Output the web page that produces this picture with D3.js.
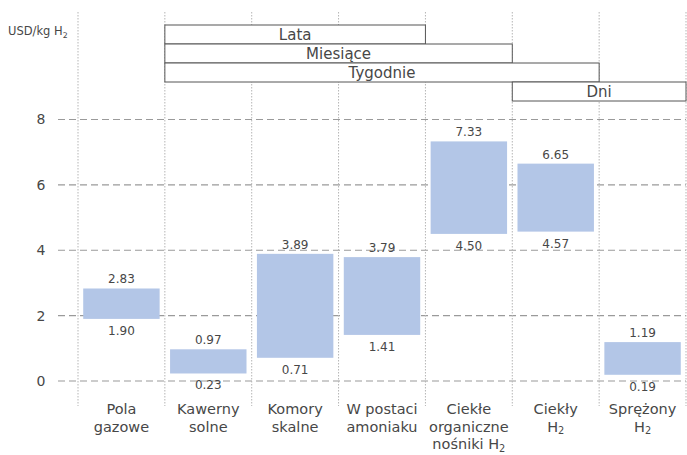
<!DOCTYPE html>
<html>
<head>
<meta charset="utf-8">
<script src="https://cdn.jsdelivr.net/npm/d3@7"></script>
<style>
  body { margin: 0; background: #fff; }
  text { font-family: "DejaVu Sans", sans-serif; fill: #474747; }
</style>
</head>
<body>
<div id="chart"></div>
<script>
const width = 687;
const height = 455;

// categories, "_2" marks a subscript 2
const categories = [
    ["Pola", "gazowe"],
    ["Kawerny", "solne"],
    ["Komory", "skalne"],
    ["W postaci", "amoniaku"],
    ["Ciekłe", "organiczne", "nośniki H_2"],
    ["Ciekły", "H_2"],
    ["Sprężony", "H_2"]
];
const lowValues = [1.90, 0.23, 0.71, 1.41, 4.50, 4.57, 0.19];
const highValues = [2.83, 0.97, 3.89, 3.79, 7.33, 6.65, 1.19];
const yTicks = [0, 2, 4, 6, 8];

// storage duration spans (first and last category index)
const periods = ["Lata", "Miesiące", "Tygodnie", "Dni"];
const periodStart = [1, 1, 1, 5];
const periodEnd = [3, 4, 5, 6];

const keys = categories.map((c, i) => i);

const svg = d3.select("#chart")
    .append("svg")
    .attr("width", width)
    .attr("height", height);

const x = d3.scaleBand()
    .domain(keys)
    .range([78, 686])
    .paddingInner(0.12)
    .paddingOuter(0.06);

const step = x.step();
const colLeft = i => x(i) - step * 0.06;

const y = d3.scaleLinear()
    .domain([0, 8])
    .range([381, 119.5]);

const rowY = d3.scaleBand()
    .domain(periods)
    .range([25, 101]);

// write text with "_2" turned into a subscript
function richText(sel, str) {
    const parts = str.split("_2");
    sel.append("tspan").text(parts[0]);
    if (parts.length > 1) {
        sel.append("tspan").attr("font-size", "0.68em").attr("dy", 2.5).text("2");
    }
}

// horizontal dashed grid
svg.append("g")
    .selectAll("line")
    .data(yTicks)
    .join("line")
    .attr("x1", 58)
    .attr("x2", 686)
    .attr("y1", d => y(d))
    .attr("y2", d => y(d))
    .attr("stroke", "#9a9a9a")
    .attr("stroke-width", 1.2)
    .attr("stroke-dasharray", "7,4");

svg.append("g")
    .selectAll("text")
    .data(yTicks)
    .join("text")
    .attr("x", 41)
    .attr("y", d => y(d))
    .attr("dy", "0.35em")
    .attr("text-anchor", "middle")
    .attr("font-size", 14)
    .text(d => d);

// vertical dotted column separators
const edges = keys.map(colLeft).concat([colLeft(6) + step]);
svg.append("g")
    .selectAll("line")
    .data(edges)
    .join("line")
    .attr("x1", d => d)
    .attr("x2", d => d)
    .attr("y1", 12)
    .attr("y2", 406)
    .attr("stroke", "#b5b5b5")
    .attr("stroke-dasharray", "1.5,1.5");

// unit label
const unit = svg.append("text")
    .attr("x", 8)
    .attr("y", 35)
    .attr("font-size", 11.5);
richText(unit, "USD/kg H_2");

// bars
svg.append("g")
    .selectAll("rect")
    .data(keys)
    .join("rect")
    .attr("x", i => x(i))
    .attr("width", x.bandwidth())
    .attr("y", i => y(highValues[i]))
    .attr("height", i => y(lowValues[i]) - y(highValues[i]))
    .attr("fill", "#b3c6e7");

svg.append("g")
    .selectAll("text")
    .data(keys)
    .join("text")
    .attr("x", i => x(i) + x.bandwidth() / 2)
    .attr("y", i => y(highValues[i]) - 5)
    .attr("text-anchor", "middle")
    .attr("font-size", 12)
    .text(i => highValues[i].toFixed(2));

svg.append("g")
    .selectAll("text")
    .data(keys)
    .join("text")
    .attr("x", i => x(i) + x.bandwidth() / 2)
    .attr("y", i => y(lowValues[i]) + 16)
    .attr("text-anchor", "middle")
    .attr("font-size", 12)
    .text(i => lowValues[i].toFixed(2));

// category labels, one text per line
const catLines = keys.flatMap(i => categories[i].map((line, j) => ({ i, j, line })));
svg.append("g")
    .selectAll("text")
    .data(catLines)
    .join("text")
    .attr("x", d => x(d.i) + x.bandwidth() / 2)
    .attr("y", d => 414 + d.j * 17.5)
    .attr("text-anchor", "middle")
    .attr("font-size", 14.5)
    .each(function(d) { richText(d3.select(this), d.line); });

// duration boxes
const boxes = svg.append("g")
    .selectAll("g")
    .data(periods)
    .join("g");

boxes.append("rect")
    .attr("x", (d, i) => colLeft(periodStart[i]))
    .attr("width", (d, i) => colLeft(periodEnd[i]) + step - colLeft(periodStart[i]))
    .attr("y", d => rowY(d))
    .attr("height", rowY.bandwidth())
    .attr("fill", "#fff")
    .attr("stroke", "#555")
    .attr("stroke-width", 1);

boxes.append("text")
    .attr("x", (d, i) => (colLeft(periodStart[i]) + colLeft(periodEnd[i]) + step) / 2)
    .attr("y", d => rowY(d) + rowY.bandwidth() / 2)
    .attr("dy", "0.36em")
    .attr("text-anchor", "middle")
    .attr("font-size", 15)
    .text(d => d);
</script>
</body>
</html>
